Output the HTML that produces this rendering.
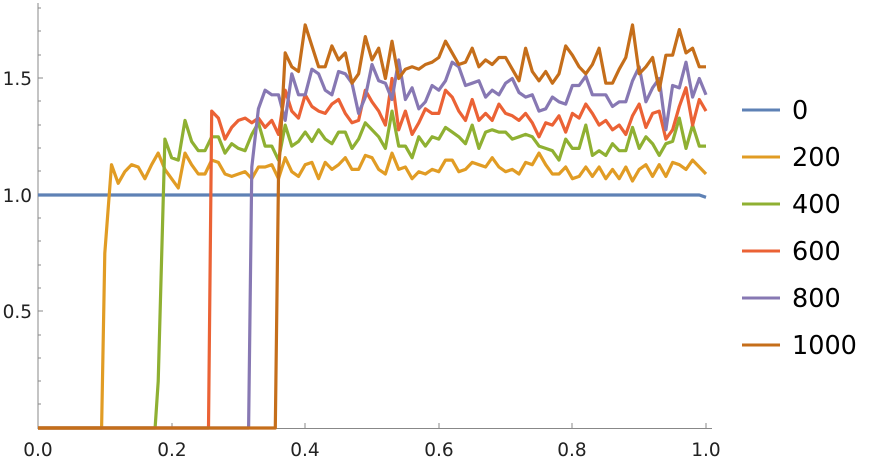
<!DOCTYPE html>
<html><head><meta charset="utf-8"><style>
html,body{margin:0;padding:0;background:#fff;}
svg{display:block;font-family:"DejaVu Sans","Liberation Sans",sans-serif;}
</style></head><body>
<svg id="s" width="870" height="460" viewBox="0 0 870 460" xmlns="http://www.w3.org/2000/svg">
<g stroke="#888" stroke-width="1" fill="none">
<line x1="38" y1="3" x2="38" y2="428.5"/>
<line x1="37.5" y1="428.5" x2="712" y2="428.5"/>
<line x1="38" y1="78" x2="43" y2="78"/><line x1="38" y1="195" x2="43" y2="195"/><line x1="38" y1="311" x2="43" y2="311"/>
<line x1="38" y1="404" x2="41" y2="404"/><line x1="38" y1="381" x2="41" y2="381"/><line x1="38" y1="358" x2="41" y2="358"/><line x1="38" y1="335" x2="41" y2="335"/>
<line x1="38" y1="288" x2="41" y2="288"/><line x1="38" y1="265" x2="41" y2="265"/><line x1="38" y1="241" x2="41" y2="241"/><line x1="38" y1="218" x2="41" y2="218"/>
<line x1="38" y1="171" x2="41" y2="171"/><line x1="38" y1="148" x2="41" y2="148"/><line x1="38" y1="125" x2="41" y2="125"/><line x1="38" y1="101" x2="41" y2="101"/>
<line x1="38" y1="55" x2="41" y2="55"/><line x1="38" y1="31" x2="41" y2="31"/><line x1="38" y1="8" x2="41" y2="8"/>
<line x1="172" y1="428" x2="172" y2="423"/><line x1="305" y1="428" x2="305" y2="423"/><line x1="439" y1="428" x2="439" y2="423"/><line x1="572" y1="428" x2="572" y2="423"/><line x1="706" y1="428" x2="706" y2="423"/>
</g>
<g font-size="18.5" fill="#222" text-anchor="end">
<text x="32" y="85">1.5</text><text x="32" y="202">1.0</text><text x="32" y="318">0.5</text>
</g>
<g font-size="18.5" fill="#222" text-anchor="middle">
<text x="38" y="456">0.0</text><text x="172" y="456">0.2</text><text x="305" y="456">0.4</text><text x="439" y="456">0.6</text><text x="572" y="456">0.8</text><text x="706" y="456">1.0</text>
</g>
<g id="series" fill="none" stroke-width="3.2" stroke-linejoin="round"></g>
<g stroke-width="3">
<line x1="742" y1="110" x2="780" y2="110" stroke="#5E81B5"/>
<line x1="742" y1="157" x2="780" y2="157" stroke="#E19C24"/>
<line x1="742" y1="204" x2="780" y2="204" stroke="#8FB032"/>
<line x1="742" y1="251" x2="780" y2="251" stroke="#EB6235"/>
<line x1="742" y1="298" x2="780" y2="298" stroke="#8778B3"/>
<line x1="742" y1="345" x2="780" y2="345" stroke="#C56E1A"/>
</g>
<g font-size="25.5" fill="#000">
<text x="792" y="119">0</text><text x="792" y="166">200</text><text x="792" y="213">400</text><text x="792" y="260">600</text><text x="792" y="307">800</text><text x="792" y="354">1000</text>
</g>
</svg>
<script>
function X(i){return 38+i*6.68;}
function Y(v){return 428-v*233;}
function build(start,vals,color){
  var pts=[];for(var i=0;i<=100;i++){var v=i<start?0:(vals[i-start]!==undefined?vals[i-start]:vals[vals.length-1]);pts.push([X(i),Y(v)]);}
  if(start>0){pts[start-1][0]+=3.5;}
  var d="";for(var i=0;i<pts.length;i++){d+=(i?"L":"M")+pts[i][0].toFixed(1)+" "+pts[i][1].toFixed(1);}
  var p=document.createElementNS("http://www.w3.org/2000/svg","path");
  p.setAttribute("d",d);p.setAttribute("stroke",color);document.getElementById("series").appendChild(p);
}
var blue=[];for(var i=0;i<=100;i++)blue.push(i==100?0.99:1);
build(0,blue,"#5E81B5");
build(10,[0.75,1.13,1.05,1.1,1.13,1.12,1.07,1.13,1.18,1.11,1.07,1.03,1.18,1.13,1.09,1.09,1.15,1.14,1.09,1.08,1.09,1.1,1.07,1.12,1.12,1.13,1.07,1.16,1.1,1.08,1.13,1.14,1.07,1.14,1.11,1.13,1.16,1.11,1.11,1.17,1.16,1.11,1.09,1.18,1.11,1.12,1.07,1.1,1.09,1.11,1.1,1.15,1.15,1.1,1.11,1.14,1.13,1.12,1.16,1.12,1.1,1.11,1.09,1.14,1.13,1.18,1.13,1.09,1.09,1.12,1.07,1.08,1.12,1.08,1.12,1.07,1.11,1.07,1.12,1.06,1.11,1.13,1.08,1.13,1.08,1.14,1.13,1.11,1.15,1.12,1.09],"#E19C24");
build(18,[0.2,1.24,1.16,1.15,1.32,1.23,1.19,1.19,1.25,1.25,1.18,1.22,1.2,1.19,1.26,1.31,1.21,1.21,1.15,1.3,1.21,1.23,1.27,1.23,1.28,1.24,1.22,1.27,1.27,1.2,1.24,1.31,1.28,1.25,1.2,1.36,1.21,1.21,1.16,1.25,1.21,1.25,1.24,1.29,1.27,1.25,1.22,1.3,1.2,1.27,1.28,1.27,1.27,1.24,1.25,1.26,1.25,1.21,1.2,1.19,1.15,1.24,1.2,1.2,1.3,1.17,1.19,1.17,1.22,1.19,1.19,1.29,1.2,1.25,1.22,1.17,1.22,1.23,1.33,1.2,1.3,1.21],"#8FB032");
build(26,[1.36,1.33,1.24,1.29,1.32,1.33,1.31,1.33,1.29,1.32,1.26,1.45,1.36,1.33,1.43,1.38,1.36,1.35,1.39,1.41,1.35,1.31,1.32,1.45,1.4,1.36,1.3,1.5,1.28,1.36,1.26,1.31,1.37,1.35,1.35,1.45,1.42,1.36,1.32,1.41,1.32,1.35,1.32,1.39,1.35,1.34,1.32,1.35,1.31,1.25,1.31,1.3,1.34,1.27,1.35,1.33,1.39,1.35,1.3,1.32,1.28,1.3,1.26,1.34,1.39,1.29,1.35,1.36,1.24,1.28,1.38,1.46,1.3,1.41,1.36],"#EB6235");
build(32,[1.12,1.37,1.45,1.43,1.43,1.32,1.52,1.43,1.43,1.54,1.52,1.45,1.43,1.53,1.52,1.48,1.35,1.42,1.56,1.49,1.48,1.41,1.58,1.41,1.46,1.37,1.4,1.47,1.45,1.49,1.57,1.55,1.47,1.48,1.49,1.42,1.45,1.43,1.48,1.5,1.44,1.42,1.43,1.36,1.37,1.42,1.4,1.39,1.47,1.47,1.51,1.43,1.43,1.43,1.38,1.4,1.4,1.49,1.55,1.4,1.46,1.5,1.28,1.47,1.46,1.57,1.42,1.5,1.43],"#8778B3");
build(36,[1.08,1.61,1.55,1.53,1.73,1.64,1.55,1.55,1.64,1.58,1.61,1.48,1.52,1.68,1.58,1.63,1.5,1.66,1.5,1.54,1.55,1.54,1.56,1.57,1.59,1.66,1.61,1.56,1.57,1.63,1.55,1.58,1.56,1.59,1.59,1.54,1.49,1.63,1.53,1.49,1.53,1.48,1.52,1.64,1.6,1.55,1.52,1.56,1.63,1.48,1.48,1.54,1.59,1.73,1.52,1.55,1.59,1.45,1.6,1.6,1.71,1.61,1.63,1.55],"#C56E1A");
</script>
</body></html>
